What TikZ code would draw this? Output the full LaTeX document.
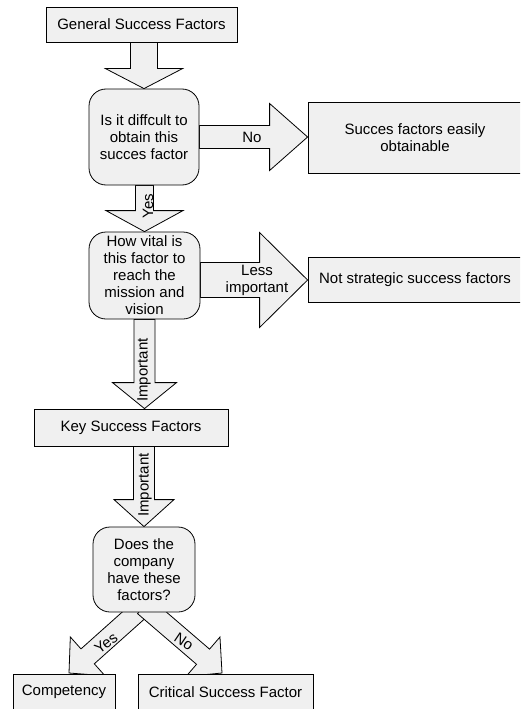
\documentclass[tikz,border=0pt]{standalone}
\usepackage{fontspec}
\setmainfont{Liberation Sans}
\usetikzlibrary{calc,backgrounds}
\definecolor{fond}{RGB}{240,240,240}
% Block arrow from #1 to #2: shaft half width #3, head half width #4, head length #5
\newcommand{\blockarrow}[5]{%
    \coordinate (arrowbase) at ($(#2)!#5!(#1)$);%
    \draw[fleche bloc] ($(#1)!#3!90:(#2)$) -- ($(arrowbase)!#3!-90:(#1)$)%
        -- ($(arrowbase)!#4!-90:(#1)$) -- (#2)%
        -- ($(arrowbase)!#4!90:(#1)$) -- ($(arrowbase)!#3!90:(#1)$)%
        -- ($(#1)!#3!-90:(#2)$) -- cycle;%
}

\begin{document}
\begin{tikzpicture}[x=1pt,y=-1pt]
%
% Styles
%
\tikzset{every node/.style={font=\fontsize{15}{17}\selectfont}};%
\tikzset{boite/.style={draw, fill=fond, line width=0.8pt, inner sep=0pt, align=center}};%
\tikzset{question/.style={boite, rounded corners=17pt}};%
\tikzset{fleche bloc/.style={draw, fill=fond, line width=0.8pt, line join=miter}};%
\tikzset{etiquette/.style={inner sep=0pt}};%

\clip (0,0) rectangle (520,709);%

%
% Boxes and questions
%
\node[boite, minimum width=191pt, minimum height=35pt] (gsf) at (141.5,24.5) {General Success Factors};%
\node[question, minimum width=110pt, minimum height=96pt] (q1) at (144,137) {Is it diffcult to\\obtain this\\succes factor};%
\node[boite, minimum width=214pt, minimum height=71pt] (easy) at (415,137.5) {Succes factors easily\\obtainable};%
\node[question, minimum width=111pt, minimum height=87pt] (q2) at (144.5,275.5) {How vital is\\this factor to\\reach the\\mission and\\vision};%
\node[boite, minimum width=214pt, minimum height=45pt] (notstrat) at (415,280) {Not strategic success factors};%
\node[boite, minimum width=194pt, minimum height=37pt] (ksf) at (131,427.5) {Key Success Factors};%
\node[question, minimum width=102pt, minimum height=85pt] (q3) at (144,569.5) {Does the\\company\\have these\\factors?};%
\node[boite, minimum width=102pt, minimum height=36pt] (comp) at (64,692) {Competency};%
\node[boite, minimum width=175pt, minimum height=36pt] (csf) at (225.5,692) {Critical Success Factor};%

\coordinate (q3foot) at (144,606);%
\coordinate (yestip) at (69,673);%
\coordinate (notip) at (222,673);%

%
% Arrows, behind the boxes
%
\begin{scope}[on background layer]
    \blockarrow{q1.north |- gsf.south}{q1.north}{13.5pt}{38.5pt}{20pt}%
    \blockarrow{q1.east}{easy.west |- q1.east}{11.5pt}{33.5pt}{38pt}%
    \blockarrow{q2.north |- q1.south}{q2.north}{9pt}{38.5pt}{21pt}%
    \blockarrow{q2.east |- notstrat.west}{notstrat.west}{17.5pt}{47.5pt}{48pt}%
    \blockarrow{q2.south}{q2.south |- ksf.north}{10.5pt}{32pt}{26pt}%
    \blockarrow{q3.north |- ksf.south}{q3.north}{10.5pt}{30pt}{27pt}%
    \blockarrow{q3foot}{yestip}{10pt}{26pt}{25pt}%
    \blockarrow{q3foot}{notip}{10pt}{26pt}{25pt}%
\end{scope}

%
% Arrow labels
%
\node[etiquette] (lblno) at (252,137) {No};%
\node[etiquette, rotate=90] (lblyes) at (148,206) {Yes};%
\node[etiquette, align=center] (lblless) at (257,280.5) {Less\\important};%
\node[etiquette, rotate=90] (lblimp) at (144,370) {Important};%
\node[etiquette, rotate=90] (lblimpb) at (145,485) {Important};%
\node[etiquette, rotate=37] (lblyesb) at (106,643) {Yes};%
\node[etiquette, rotate=-34] (lblnob) at (184,642) {No};%
\end{tikzpicture}
\end{document}
